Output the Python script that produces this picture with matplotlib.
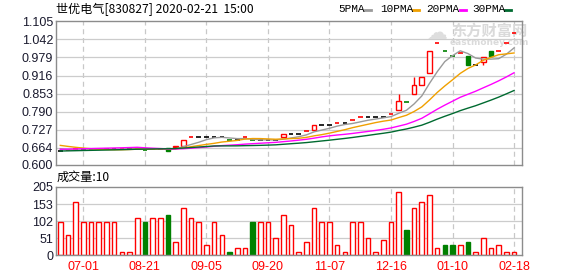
import matplotlib
matplotlib.use("Agg")
import matplotlib.pyplot as plt
from matplotlib.patches import Rectangle
import numpy as np
import pandas as pd

plt.rcParams['font.family'] = ['Noto Sans CJK SC', 'DejaVu Sans']

# values (60 trading bars)
tick_pos = [3, 11, 19, 27, 35, 43, 51, 59]
tick_labels = ["07-01", "08-21", "09-05", "09-20", "11-07", "12-16", "01-10", "02-18"]

price_ticks = [0.6045, 0.6631, 0.7263, 0.7894, 0.8525, 0.9156, 0.9788, 1.0419, 1.105]
price_labels = ["0.600", "0.664", "0.727", "0.790", "0.853", "0.916", "0.979", "1.042", "1.105"]
vol_ticks = [0, 51, 102, 153, 205]

opens = [0.652, 0.655, 0.658, 0.658, 0.658, 0.658, 0.658, 0.658, 0.660, 0.660,
         0.663, 0.655, 0.661, 0.661, 0.662, 0.665, 0.671, 0.700, 0.700, 0.700,
         0.700, 0.700, 0.689, 0.689, 0.700, 0.689, 0.689, 0.689, 0.689, 0.702,
         0.711, 0.711, 0.721, 0.725, 0.742, 0.742, 0.749, 0.749, 0.760, 0.770,
         0.770, 0.770, 0.770, 0.782, 0.796, 0.822, 0.852, 0.884, 0.923, 1.031,
         1.001, 0.984, 0.993, 0.984, 0.953, 0.964, 1.001, 1.001, 1.031, 1.063]
closes = [0.652, 0.655, 0.658, 0.658, 0.658, 0.658, 0.658, 0.658, 0.660, 0.660,
          0.663, 0.655, 0.661, 0.661, 0.654, 0.669, 0.691, 0.700, 0.700, 0.700,
          0.700, 0.700, 0.689, 0.689, 0.700, 0.689, 0.689, 0.689, 0.689, 0.711,
          0.711, 0.711, 0.721, 0.742, 0.742, 0.742, 0.749, 0.749, 0.760, 0.770,
          0.770, 0.770, 0.770, 0.782, 0.828, 0.822, 0.881, 0.909, 1.001, 1.031,
          1.001, 0.984, 0.993, 0.953, 0.953, 0.982, 0.984, 1.001, 1.031, 1.063]
highs = [0.652, 0.655, 0.658, 0.658, 0.658, 0.658, 0.658, 0.658, 0.660, 0.660,
         0.663, 0.655, 0.661, 0.661, 0.662, 0.669, 0.691, 0.700, 0.700, 0.700,
         0.700, 0.700, 0.689, 0.689, 0.700, 0.689, 0.689, 0.689, 0.689, 0.711,
         0.711, 0.711, 0.721, 0.742, 0.742, 0.742, 0.749, 0.749, 0.760, 0.770,
         0.770, 0.770, 0.770, 0.782, 0.850, 0.822, 0.910, 0.909, 1.001, 1.031,
         1.001, 0.984, 0.993, 0.984, 0.953, 0.982, 1.001, 1.001, 1.031, 1.063]
lows = [0.652, 0.655, 0.658, 0.658, 0.658, 0.658, 0.658, 0.658, 0.660, 0.660,
        0.663, 0.655, 0.661, 0.661, 0.654, 0.665, 0.671, 0.700, 0.700, 0.700,
        0.700, 0.700, 0.689, 0.689, 0.700, 0.689, 0.689, 0.689, 0.689, 0.702,
        0.711, 0.711, 0.721, 0.725, 0.742, 0.742, 0.749, 0.749, 0.760, 0.770,
        0.770, 0.770, 0.770, 0.782, 0.796, 0.822, 0.852, 0.884, 0.923, 1.031,
        1.001, 0.984, 0.993, 0.953, 0.953, 0.953, 0.984, 1.001, 1.031, 1.063]
volumes = [100, 60, 160, 100, 100, 100, 100, 100, 10, 10,
           110, 100, 110, 110, 120, 40, 140, 110, 100, 30,
           100, 60, 10, 20, 20, 100, 100, 100, 50, 120,
           90, 10, 40, 140, 100, 100, 30, 10, 100, 100,
           50, 10, 45, 100, 190, 75, 140, 160, 180, 20,
           30, 30, 30, 40, 10, 50, 20, 30, 10, 10]
# closes before the visible window, estimated from where the MA lines start
prior_closes = [0.640] * 10 + [0.645] * 10 + [0.690, 0.690, 0.685, 0.680, 0.675,
                                              0.670, 0.665, 0.660, 0.652]

RED = '#ff0000'
GREEN = '#008000'
ma_colors = {5: '#9a9a9a', 10: '#f0a000', 20: '#ff00ff', 30: '#006a30'}

n = len(closes)
x = np.arange(n)
allc = pd.Series(prior_closes + closes)
mas = {k: allc.rolling(k).mean().values[-n:] for k in ma_colors}
prev = [prior_closes[-1]] + closes[:-1]

fig = plt.figure(figsize=(5.78, 2.76), dpi=100)
ax = fig.add_axes([56 / 578, (276 - 164.7) / 276, 466 / 578, 143.4 / 276])
ax2 = fig.add_axes([56 / 578, 21 / 276, 466 / 578, 68.3 / 276])

# watermark, behind everything in the price panel
ax.text(437 / 578, 1 - 33 / 276, "\u2601", transform=fig.transFigure, fontsize=15,
        color='#dedede', ha='center', va='center', family=['DejaVu Sans'], zorder=0.5)
ax.text(451 / 578, 1 - 31 / 276, "东方财富网", transform=fig.transFigure, fontsize=11,
        fontweight='bold', color='#dadada', va='center', ha='left', zorder=0.5,
        clip_on=False)
ax.text(450 / 578, 1 - 42.5 / 276, "eastmoney.com", transform=fig.transFigure,
        fontsize=6.5, fontweight='bold', color='#dadada', va='center', ha='left',
        family=['DejaVu Sans'], zorder=0.5, clip_on=False)

w = 0.6
for i in x:
    o, c, h, l = opens[i], closes[i], highs[i], lows[i]
    if c != o:
        col = RED if c > o else GREEN
        face = 'white' if c > o else GREEN
        top, bot = max(o, c), min(o, c)
        if h > top:
            ax.vlines(i, top, h, color=col, lw=1, zorder=2)
        if l < bot:
            ax.vlines(i, l, bot, color=col, lw=1, zorder=2)
        ax.add_patch(Rectangle((i - w / 2, bot), w, top - bot, facecolor=face,
                               edgecolor=col, lw=1, zorder=2))
    else:
        if c > prev[i]:
            col = RED
        elif c < prev[i]:
            col = GREEN
        else:
            col = 'black'
        ax.hlines(c, i - w / 2, i + w / 2, color=col, lw=1.2, zorder=2)

for k, col in ma_colors.items():
    ax.plot(x, mas[k], color=col, lw=1, zorder=3)

for i in x:
    down = closes[i] < prev[i]
    ax2.bar(i, volumes[i], width=0.6, facecolor=GREEN if down else 'white',
            edgecolor=GREEN if down else RED, lw=1, zorder=2)

for a in (ax, ax2):
    a.set_xlim(-0.56, 60.03)
    a.set_xticks(tick_pos)
    for p in tick_pos:
        a.axvline(p, color='#c8c8c8', lw=0.9, ls=(0, (4, 3)), zorder=0)
    a.tick_params(length=0, labelsize=9)
    for s in a.spines.values():
        s.set_color('#8c8c8c')
        s.set_linewidth(1)

ax.set_ylim(0.6045, 1.105)
ax.set_yticks(price_ticks)
ax.set_yticklabels(price_labels, family='Liberation Sans', fontsize=9, color='#1a1a2e')
for t in price_ticks[1:-1]:
    ax.axhline(t, color='#cccccc', lw=0.9, zorder=0)
ax.set_xticklabels([])
ax.tick_params(axis='y', pad=2)

ax2.set_ylim(0, 205)
ax2.set_yticks(vol_ticks)
ax2.set_yticklabels([str(t) for t in vol_ticks], family='Liberation Sans', fontsize=9,
                    color='#1a1a2e')
for t in vol_ticks[1:-1]:
    ax2.axhline(t, color='#cccccc', lw=0.9, zorder=0)
ax2.set_xticklabels(tick_labels, family='Liberation Sans', fontsize=9, color=RED)
ax2.tick_params(axis='y', pad=2)
ax2.tick_params(axis='x', pad=4)

# header texts
fig.text(56 / 578, 1 - 9 / 276, "世优电气[830827] 2020-02-21  15:00", fontsize=8.7,
         va='center', ha='left', color='black')
fig.text(57 / 578, 1 - 177.7 / 276, "成交量:10", fontsize=8.7, va='center', ha='left',
         color='black')
legend_items = [("5PMA", 338, 365, 5), ("10PMA", 380, 413, 10),
                ("20PMA", 426, 460, 20), ("30PMA", 472, 505, 30)]
for label, tx, mx, k in legend_items:
    fig.text(tx / 578, 1 - 9 / 276, label, fontsize=8, va='center', ha='left',
             family=['Liberation Mono'])
    fig.add_artist(plt.Line2D([mx / 578, (mx + 6) / 578], [1 - 9.5 / 276, 1 - 9.5 / 276],
                              color=ma_colors[k], lw=2, transform=fig.transFigure))

fig.savefig("out.png", dpi=100)
